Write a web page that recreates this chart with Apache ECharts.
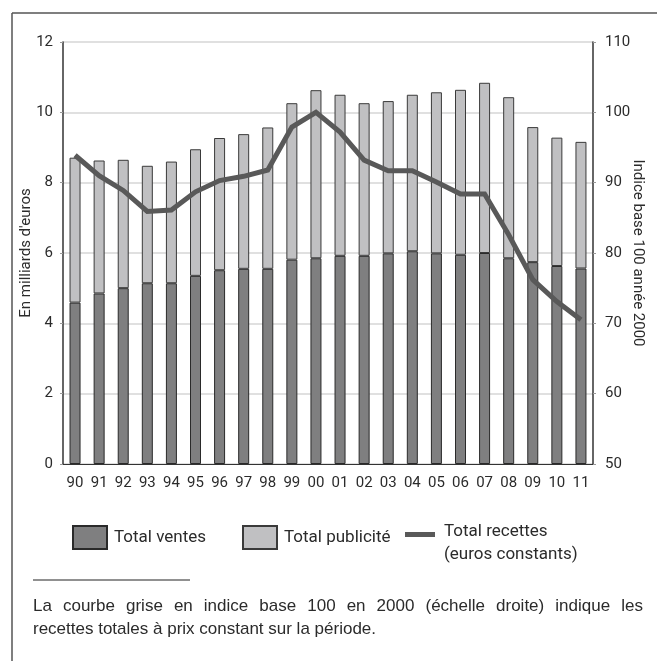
<!DOCTYPE html>
<html>
<head>
<meta charset="utf-8">
<script src="https://cdn.jsdelivr.net/npm/echarts@6/dist/echarts.min.js"></script>
<style>
  html, body { margin: 0; padding: 0; background: #fff; }
  #chart { width: 657px; height: 661px; }
</style>
</head>
<body>
<div id="chart"></div>
<script>
  // années (axe x)
  var annees = ['90', '91', '92', '93', '94', '95', '96', '97', '98', '99', '00',
                '01', '02', '03', '04', '05', '06', '07', '08', '09', '10', '11'];
  // en milliards d'euros
  var totalVentes = [4.59, 4.85, 5.0, 5.14, 5.14, 5.35, 5.51, 5.55, 5.55, 5.81, 5.85,
                     5.92, 5.92, 5.99, 6.05, 5.99, 5.95, 6.0, 5.85, 5.74, 5.63, 5.56];
  var totalPublicite = [4.12, 3.78, 3.65, 3.34, 3.46, 3.6, 3.76, 3.83, 4.02, 4.45, 4.78,
                        4.58, 4.34, 4.33, 4.45, 4.58, 4.69, 4.84, 4.58, 3.84, 3.65, 3.6];
  // indice base 100 en 2000
  var totalRecettes = [93.9, 91.0, 88.9, 85.9, 86.1, 88.7, 90.3, 90.9, 91.8, 97.9, 100,
                       97.2, 93.2, 91.7, 91.7, 90.1, 88.4, 88.4, 82.6, 76.2, 73.1, 70.5];

  var narrow = "Roboto, 'Liberation Sans', sans-serif";
  var texte = '#2b2b2b';
  var police = "17px 'Liberation Sans', Arial, sans-serif";

  // note de bas de page, 1re ligne justifiée (espaces élargis)
  var note1 = 'La courbe grise en indice base 100 en 2000 (échelle droite) indique les';
  var note2 = 'recettes totales à prix constant sur la période.';

  var myChart = echarts.init(document.getElementById('chart'));
  var option = {
    animation: false,
    grid: { left: 63, right: 64, top: 42, bottom: 197 },
    legend: [{
      data: ['Total ventes'],
      left: 67, top: 520,
      icon: 'rect',
      itemWidth: 34, itemHeight: 23,
      textStyle: { fontFamily: narrow, fontSize: 17, color: texte, padding: [0, 0, 0, 2] }
    }, {
      data: ['Total publicité'],
      left: 237, top: 520,
      icon: 'rect',
      itemWidth: 34, itemHeight: 23,
      textStyle: { fontFamily: narrow, fontSize: 17, color: texte, padding: [0, 0, 0, 2] }
    }, {
      data: ['Total recettes'],
      left: 400, top: 515,
      // trait placé en haut de la case, au niveau de la 1re ligne
      icon: 'path://M0,12h30v5h-30zM0,0h0.01v0.01zM0,46h0.01v0.01z',
      itemWidth: 30, itemHeight: 46,
      formatter: function() { return 'Total recettes\n(euros constants)'; },
      textStyle: { fontFamily: narrow, fontSize: 17, color: texte, lineHeight: 23, padding: [0, 0, 0, 4] }
    }],
    xAxis: {
      type: 'category',
      data: annees,
      axisLine: { lineStyle: { color: '#333', width: 1 } },
      axisTick: { length: 6, lineStyle: { color: '#333' } },
      axisLabel: { fontFamily: narrow, fontSize: 15, color: texte, margin: 12 }
    },
    yAxis: [{
      type: 'value',
      min: 0, max: 12, interval: 2,
      name: "En milliards d'euros",
      nameLocation: 'middle',
      nameRotate: 90,
      nameGap: 29,
      nameMoveOverlap: false,
      nameTextStyle: { fontFamily: narrow, fontSize: 15, color: texte },
      axisLine: { show: true, lineStyle: { color: '#333', width: 1.5 } },
      axisTick: { show: true, length: 3, lineStyle: { color: '#999' } },
      axisLabel: { fontFamily: narrow, fontSize: 15, color: texte, margin: 10 },
      splitLine: { lineStyle: { color: '#d6d6d6', width: 1.5 } }
    }, {
      type: 'value',
      min: 50, max: 110, interval: 10,
      name: 'Indice base 100 année 2000',
      nameLocation: 'middle',
      nameRotate: -90,
      nameGap: 37,
      nameMoveOverlap: false,
      nameTextStyle: { fontFamily: narrow, fontSize: 15, color: texte },
      axisLine: { show: true, lineStyle: { color: '#333', width: 1.5 } },
      axisTick: { show: true, length: 3, lineStyle: { color: '#999' } },
      axisLabel: { fontFamily: narrow, fontSize: 15, color: texte, margin: 12 },
      splitLine: { show: false }
    }],
    series: [{
      name: 'Total ventes',
      type: 'bar',
      stack: 'total',
      barWidth: 11,
      data: totalVentes,
      itemStyle: { color: '#7f7f80', borderColor: '#2a2a2a', borderWidth: 1 }
    }, {
      name: 'Total publicité',
      type: 'bar',
      stack: 'total',
      barWidth: 11,
      data: totalPublicite,
      itemStyle: { color: '#c0c0c2', borderColor: '#3a3a3a', borderWidth: 1 }
    }, {
      name: 'Total recettes',
      type: 'line',
      yAxisIndex: 1,
      data: totalRecettes,
      showSymbol: false,
      symbol: 'none',
      z: 5,
      lineStyle: { color: '#595959', width: 5, join: 'miter' },
      itemStyle: { color: '#595959' }
    }],
    graphic: [
      // cadre (haut et gauche)
      { type: 'line', shape: { x1: 12, y1: 13, x2: 657, y2: 13 }, style: { stroke: '#555', lineWidth: 1.5 } },
      { type: 'line', shape: { x1: 12, y1: 13, x2: 12, y2: 661 }, style: { stroke: '#555', lineWidth: 1.5 } },
      // filet de la note
      { type: 'line', shape: { x1: 33, y1: 580, x2: 190, y2: 580 }, style: { stroke: '#222', lineWidth: 1 } },
      {
        type: 'text', left: 33, top: 598,
        style: {
          text: note1.split(' ').join('{s| }'),
          font: police,
          fill: texte,
          rich: { s: { width: 11.05, font: police } }
        }
      },
      {
        type: 'text', left: 33, top: 621,
        style: { text: note2, font: police, fill: texte }
      }
    ]
  };
  myChart.setOption(option);
</script>
</body>
</html>
